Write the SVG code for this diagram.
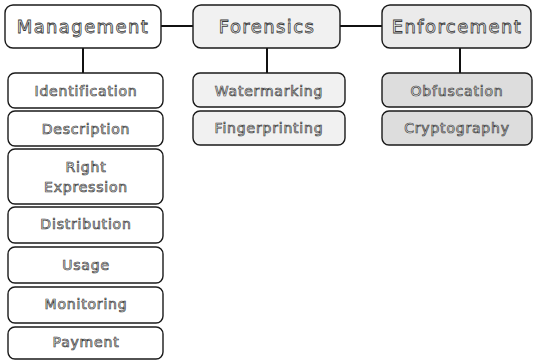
<svg xmlns="http://www.w3.org/2000/svg" width="534" height="362" viewBox="0 0 534 362">
<style>
.box{stroke:#1a1a1a;stroke-width:1.4}
.w{fill:#ffffff}
.g1{fill:#f1f1f1}
.g2{fill:#ebebeb}
.g3{fill:#dddddd}
.h{font-family:"DejaVu Sans",sans-serif;font-size:18px;letter-spacing:1.4px;fill:#ffffff;stroke:#3a3a3a;stroke-width:0.8;text-anchor:middle;dominant-baseline:central}
.s{font-family:"DejaVu Sans",sans-serif;font-size:14px;letter-spacing:0.8px;fill:#ffffff;stroke:#3a3a3a;stroke-width:0.7;text-anchor:middle;dominant-baseline:central}
.c{stroke:#111;stroke-width:2;fill:none}
</style>
<rect width="534" height="362" fill="#ffffff"/>
<g id="connectors">
<line class="c" x1="161" y1="26" x2="193" y2="26"/>
<line class="c" x1="340" y1="26" x2="382" y2="26"/>
<line class="c" x1="83" y1="48" x2="83" y2="73"/>
<line class="c" x1="267" y1="48" x2="267" y2="73"/>
<line class="c" x1="460" y1="48" x2="460" y2="73"/>
</g>
<g id="management"><rect class="box w" x="5" y="5" width="156" height="43" rx="8"/><text class="h" x="83" y="26">Management</text></g>
<g id="forensics"><rect class="box g1" x="193" y="5" width="147" height="43" rx="8"/><text class="h" x="267" y="26">Forensics</text></g>
<g id="enforcement"><rect class="box g2" x="382" y="5" width="149" height="43" rx="8"/><text class="h" x="457" y="26">Enforcement</text></g>
<g id="identification"><rect class="box w" x="8" y="73" width="155" height="35" rx="7"/><text class="s" x="86" y="91">Identification</text></g>
<g id="description"><rect class="box w" x="8" y="111" width="155" height="35" rx="7"/><text class="s" x="86" y="129">Description</text></g>
<g id="right-expression"><rect class="box w" x="8" y="149" width="155" height="55" rx="7"/><text class="s" x="86" y="167">Right</text><text class="s" x="86" y="187">Expression</text></g>
<g id="distribution"><rect class="box w" x="8" y="207" width="155" height="36" rx="7"/><text class="s" x="86" y="224">Distribution</text></g>
<g id="usage"><rect class="box w" x="8" y="247" width="155" height="36" rx="7"/><text class="s" x="86" y="265">Usage</text></g>
<g id="monitoring"><rect class="box w" x="8" y="287" width="155" height="36" rx="7"/><text class="s" x="86" y="304">Monitoring</text></g>
<g id="payment"><rect class="box w" x="8" y="327" width="155" height="32" rx="7"/><text class="s" x="86" y="342">Payment</text></g>
<g id="watermarking"><rect class="box g1" x="193" y="73" width="152" height="34" rx="7"/><text class="s" x="269" y="91">Watermarking</text></g>
<g id="fingerprinting"><rect class="box g1" x="193" y="111" width="152" height="34" rx="7"/><text class="s" x="269" y="128">Fingerprinting</text></g>
<g id="obfuscation"><rect class="box g3" x="382" y="73" width="150" height="34" rx="7"/><text class="s" x="457" y="91">Obfuscation</text></g>
<g id="cryptography"><rect class="box g3" x="382" y="111" width="150" height="34" rx="7"/><text class="s" x="457" y="128">Cryptography</text></g>
</svg>
